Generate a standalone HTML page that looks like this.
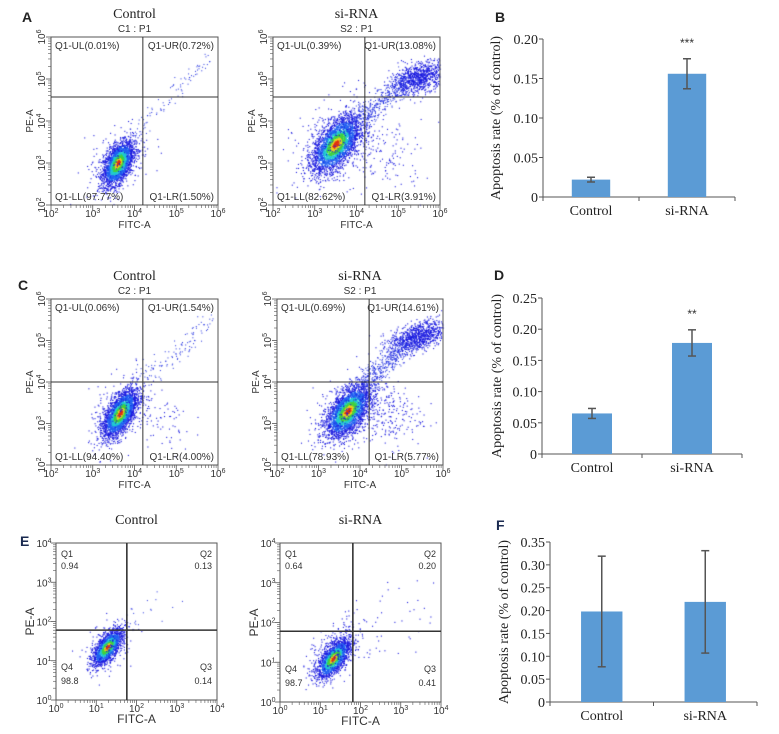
<!DOCTYPE html>
<html><head><meta charset="utf-8">
<style>
body{margin:0;background:#fff;}
#wrap{position:relative;width:779px;height:734px;overflow:hidden;font-family:"Liberation Sans",sans-serif;}
canvas{position:absolute;left:0;top:0;}
svg{position:absolute;left:0;top:0;}
</style></head>
<body>
<div id="wrap">
<canvas id="dots" width="779" height="734"></canvas>
<svg id="fig" width="779" height="734"></svg>
</div>
<script>
// ---- bar chart data ----
const barCategories = ["Control","si-RNA"];
const barB = [0.022, 0.156];
const errB = [0.003, 0.019];
const barD = [0.065, 0.178];
const errD = [0.008, 0.021];
const barF = [0.198, 0.219];
const errF = [0.121, 0.112];
const ticksB = [0,0.05,0.10,0.15,0.20];
const ticksD = [0,0.05,0.10,0.15,0.20,0.25];
const ticksF = [0,0.05,0.10,0.15,0.20,0.25,0.30,0.35];
const sigB = ["","***"];
const sigD = ["","**"];

const NS="http://www.w3.org/2000/svg";
const svg=document.getElementById('fig');
function el(tag,attrs,txt){const e=document.createElementNS(NS,tag);for(const k in attrs)e.setAttribute(k,attrs[k]);if(txt!==undefined)e.textContent=txt;svg.appendChild(e);return e;}
const ctx=document.getElementById('dots').getContext('2d');

// seeded generator for scatter cloud texture
let seed=12345;
function rnd(){seed=(seed*1103515245+12345)%2147483648;return seed/2147483648;}
function gauss(){let u=rnd()||1e-9,v=rnd();return Math.sqrt(-2*Math.log(u))*Math.cos(2*Math.PI*v);}

function label(x,y,txt,name,size,extra){
  const t=el('text',Object.assign({x:x,y:y,'font-size':size||10,fill:'#333','font-family':'"Liberation Sans",sans-serif'},extra||{}),txt);
  return t;
}
function pow10(x,y,e,name,rot){
  const g=document.createElementNS(NS,'text');
  g.setAttribute('x',x);g.setAttribute('y',y);g.setAttribute('font-size','10');g.setAttribute('fill','#333');
  g.setAttribute('text-anchor','middle');
  if(rot)g.setAttribute('transform','rotate(-90 '+x+' '+y+')');
  g.innerHTML='10<tspan font-size="7" dy="-4">'+e+'</tspan>';
  
  svg.appendChild(g);
}

function flow(p){
  const {x0,x1,y0,y1,lo,hi}=p;
  const sx=v=>x0+(v-lo)/(hi-lo)*(x1-x0);
  const sy=v=>y1-(v-lo)/(hi-lo)*(y1-y0);
  for(const c of p.clusters){
    for(let i=0;i<c.n;i++){
      const a=gauss(),b=gauss();
      const dx=a*c.sx, dy=(c.r*a+Math.sqrt(1-c.r*c.r)*b)*c.sy;
      const X=sx(c.cx+dx),Y=sy(c.cy+dy);
      if(X<x0||X>x1||Y<y0||Y>y1)continue;
      const d=Math.sqrt(a*a+b*b);
      let col='#1a1adf';
      if(c.heat){ if(d<0.3)col='#e03010';else if(d<0.5)col='#e8d020';else if(d<0.8)col='#40d040';else if(d<1.1)col='#20c8d0';else if(d<1.6)col='#2060f0';}
      ctx.fillStyle=col;ctx.fillRect(X,Y,1.1,1.1);
    }
  }
  if(p.tail){for(let i=0;i<p.tail.n;i++){const t=rnd();const X=sx(p.tail.ax+t*(p.tail.bx-p.tail.ax)+gauss()*p.tail.s);const Y=sy(p.tail.ay+t*(p.tail.by-p.tail.ay)+gauss()*p.tail.s);
    if(X<x0||X>x1||Y<y0||Y>y1)continue;ctx.fillStyle='#2030e0';ctx.fillRect(X,Y,1,1);}}
  const f=el('rect',{x:x0,y:y0,width:x1-x0,height:y1-y0,fill:'none',stroke:'#555','stroke-width':1});
  
  const qv=el('line',{x1:sx(p.qx),x2:sx(p.qx),y1:y0,y2:y1,stroke:'#333','stroke-width':p.qw||1});
  
  const qh=el('line',{x1:x0,x2:x1,y1:sy(p.qy),y2:sy(p.qy),stroke:'#333','stroke-width':p.qw||1});
  
  for(let e=lo;e<=hi;e++){
    pow10(sx(e),y1+12,e,p.name+'-x-tick');
    if(p.rotY)pow10(x0-6,sy(e),e,p.name+'-y-tick',true);
    else pow10(x0-12,sy(e)+4,e,p.name+'-y-tick');
    if(e<hi)for(let m=2;m<10;m++){const v=e+Math.log10(m);
      el('line',{x1:sx(v),x2:sx(v),y1:y1,y2:y1+3,stroke:'#555','stroke-width':0.6});
      el('line',{x1:x0,x2:x0-3,y1:sy(v),y2:sy(v),stroke:'#555','stroke-width':0.6});}
    el('line',{x1:sx(e),x2:sx(e),y1:y1,y2:y1+5,stroke:'#555','stroke-width':0.8});
    el('line',{x1:x0,x2:x0-5,y1:sy(e),y2:sy(e),stroke:'#555','stroke-width':0.8});
  }
  label((x0+x1)/2,y1+23,'FITC-A',p.name+'-x-title',p.big?12:10,{'text-anchor':'middle'});
  label(x0-(p.big?22:18),(y0+y1)/2,'PE-A',p.name+'-y-title',p.big?12:10,{'text-anchor':'middle',transform:'rotate(-90 '+(x0-(p.big?22:18))+' '+(y0+y1)/2+')'});
  label((x0+x1)/2,y0-19,p.title,p.name+'-title',14,{'text-anchor':'middle','font-family':'"Liberation Serif",serif',fill:'#222'});
  if(p.sub)label((x0+x1)/2,y0-5,p.sub,p.name+'-subtitle',10,{'text-anchor':'middle'});
  const q=p.q;
  if(p.big){
    label(x0+5,y0+14,q[0],p.name+'-q1',9);label(x0+5,y0+26,q[1],p.name+'-q1-value',9);
    label(x1-5,y0+14,q[2],p.name+'-q2',9,{'text-anchor':'end'});label(x1-5,y0+26,q[3],p.name+'-q2-value',9,{'text-anchor':'end'});
    label(x0+5,y1-30,q[4],p.name+'-q4',9);label(x0+5,y1-16,q[5],p.name+'-q4-value',9);
    label(x1-5,y1-30,q[6],p.name+'-q3',9,{'text-anchor':'end'});label(x1-5,y1-16,q[7],p.name+'-q3-value',9,{'text-anchor':'end'});
  } else {
    label(x0+4,y0+12,q[0],p.name+'-q-ul',10);label(x1-4,y0+12,q[1],p.name+'-q-ur',10,{'text-anchor':'end'});
    label(x0+4,y1-5,q[2],p.name+'-q-ll',10);label(x1-4,y1-5,q[3],p.name+'-q-lr',10,{'text-anchor':'end'});
  }
}

flow({name:'a-control',x0:51,x1:218,y0:37,y1:205,lo:2,hi:6,qx:4.2,qy:4.57,rotY:true,title:'Control',sub:'C1 : P1',
 q:['Q1-UL(0.01%)','Q1-UR(0.72%)','Q1-LL(97.77%)','Q1-LR(1.50%)'],
 clusters:[{n:2600,cx:3.6,cy:3.0,sx:0.18,sy:0.26,r:0.5,heat:true},{n:150,cx:3.6,cy:3.0,sx:0.4,sy:0.5,r:0.4}],
 tail:{n:90,ax:3.9,ay:3.6,bx:5.8,by:5.6,s:0.1}});
flow({name:'a-sirna',x0:273,x1:440,y0:37,y1:205,lo:2,hi:6,qx:4.2,qy:4.57,rotY:true,title:'si-RNA',sub:'S2 : P1',
 q:['Q1-UL(0.39%)','Q1-UR(13.08%)','Q1-LL(82.62%)','Q1-LR(3.91%)'],
 clusters:[{n:3000,cx:3.5,cy:3.45,sx:0.28,sy:0.33,r:0.55,heat:true},{n:350,cx:3.6,cy:3.5,sx:0.55,sy:0.55,r:0.4},
 {n:900,cx:5.5,cy:5.05,sx:0.35,sy:0.2,r:0.5},{n:120,cx:4.7,cy:3.1,sx:0.45,sy:0.45,r:0}],
 tail:{n:400,ax:3.9,ay:3.9,bx:5.2,by:5.0,s:0.13}});
flow({name:'c-control',x0:51,x1:218,y0:299,y1:465,lo:2,hi:6,qx:4.2,qy:4.0,rotY:true,title:'Control',sub:'C2 : P1',
 q:['Q1-UL(0.06%)','Q1-UR(1.54%)','Q1-LL(94.40%)','Q1-LR(4.00%)'],
 clusters:[{n:2800,cx:3.65,cy:3.25,sx:0.2,sy:0.28,r:0.6,heat:true},{n:180,cx:3.7,cy:3.3,sx:0.4,sy:0.45,r:0.4},{n:70,cx:4.6,cy:3.0,sx:0.4,sy:0.4,r:0}],
 tail:{n:120,ax:4.0,ay:3.9,bx:5.9,by:5.5,s:0.13}});
flow({name:'c-sirna',x0:277,x1:443,y0:299,y1:465,lo:2,hi:6,qx:4.22,qy:4.0,rotY:true,title:'si-RNA',sub:'S2 : P1',
 q:['Q1-UL(0.69%)','Q1-UR(14.61%)','Q1-LL(78.93%)','Q1-LR(5.77%)'],
 clusters:[{n:3000,cx:3.7,cy:3.3,sx:0.26,sy:0.3,r:0.55,heat:true},{n:300,cx:3.8,cy:3.3,sx:0.45,sy:0.45,r:0.4},
 {n:900,cx:5.4,cy:5.1,sx:0.35,sy:0.2,r:0.5},{n:180,cx:4.7,cy:3.2,sx:0.4,sy:0.4,r:0}],
 tail:{n:400,ax:4.0,ay:3.9,bx:5.2,by:5.0,s:0.13}});
flow({name:'e-control',x0:56,x1:217,y0:543,y1:700,lo:0,hi:4,qx:1.76,qy:1.78,big:true,qw:1.6,title:'Control',
 q:['Q1','0.94','Q2','0.13','Q4','98.8','Q3','0.14'],
 clusters:[{n:1800,cx:1.27,cy:1.35,sx:0.18,sy:0.22,r:0.65,heat:true},{n:150,cx:1.3,cy:1.4,sx:0.3,sy:0.35,r:0.4}],
 tail:{n:20,ax:1.8,ay:1.9,bx:2.7,by:2.5,s:0.15}});
flow({name:'e-sirna',x0:280,x1:441,y0:543,y1:702,lo:0,hi:4,qx:1.81,qy:1.78,big:true,qw:1.6,title:'si-RNA',
 q:['Q1','0.64','Q2','0.20','Q4','98.7','Q3','0.41'],
 clusters:[{n:1800,cx:1.32,cy:1.1,sx:0.2,sy:0.24,r:0.65,heat:true},{n:250,cx:1.4,cy:1.3,sx:0.35,sy:0.4,r:0.4},{n:40,cx:2.6,cy:1.8,sx:0.6,sy:0.6,r:0}]});

[['A',22,22],['B',495,22],['C',18,290],['D',494,280],['E',20,546],['F',496,530]].forEach(l=>{
  label(l[1],l[2],l[0],'panel-label-'+l[0].toLowerCase(),14,{'font-weight':'bold',fill:l[0]=='E'||l[0]=='F'?'#1a2a50':'#222'});
});

function bars(p){
  const {x0,x1,yb,yt,max,vals,errs,ticks,sig}=p;
  const sy=v=>yb-(v/max)*(yb-yt);
  const w=x1-x0, bw=w*0.2;
  const a=el('line',{x1:x0,x2:x0,y1:yt,y2:yb,stroke:'#555'});
  const b=el('line',{x1:x0,x2:x1,y1:yb,y2:yb,stroke:'#555'});
  ticks.forEach(t=>{el('line',{x1:x0-4,x2:x0,y1:sy(t),y2:sy(t),stroke:'#555'});
    label(x0-5,sy(t)+5,t===0?'0':t.toFixed(2),p.name+'-y-tick',14,{'text-anchor':'end','font-family':'"Liberation Serif",serif',fill:'#222'});});
  [0,0.5,1].forEach(f=>el('line',{x1:x0+f*w,x2:x0+f*w,y1:yb,y2:yb+4,stroke:'#555'}));
  vals.forEach((v,i)=>{
    const cx=x0+w*(0.25+0.5*i);
    const r=el('rect',{x:cx-bw/2,y:sy(v),width:bw,height:yb-sy(v),fill:'#5b9bd5'});
    
    const e=errs[i];
    el('line',{x1:cx,x2:cx,y1:sy(v+e),y2:sy(v-e),stroke:'#555','stroke-width':1.5});
    el('line',{x1:cx-4,x2:cx+4,y1:sy(v+e),y2:sy(v+e),stroke:'#555','stroke-width':1.5});
    el('line',{x1:cx-4,x2:cx+4,y1:sy(v-e),y2:sy(v-e),stroke:'#555','stroke-width':1.5});
    label(cx,yb+18,barCategories[i],p.name+'-x-label',14,{'text-anchor':'middle','font-family':'"Liberation Serif",serif',fill:'#222'});
    if(sig&&sig[i])label(cx,sy(v+e)-12,sig[i],p.name+'-significance',12,{'text-anchor':'middle',fill:'#333'});
  });
  const ly=(yb+yt)/2;
  label(p.lx,ly,'Apoptosis rate (% of control)',p.name+'-y-title',14,{'text-anchor':'middle','font-family':'"Liberation Serif",serif',fill:'#222',transform:'rotate(-90 '+p.lx+' '+ly+')'});
}
bars({name:'b',x0:543,x1:735,yb:197,yt:39,max:0.20,vals:barB,errs:errB,ticks:ticksB,sig:sigB,lx:500});
bars({name:'d',x0:542,x1:742,yb:454,yt:298,max:0.25,vals:barD,errs:errD,ticks:ticksD,sig:sigD,lx:501});
bars({name:'f',x0:550,x1:757,yb:702,yt:542,max:0.35,vals:barF,errs:errF,ticks:ticksF,lx:508});
</script>
</body></html>
